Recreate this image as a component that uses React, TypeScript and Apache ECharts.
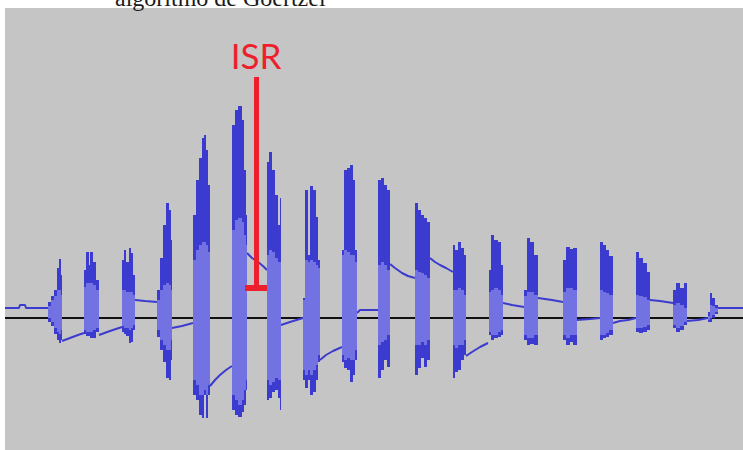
import React, { useEffect, useRef } from "react";
import * as echarts from "echarts";

const captionText = "algoritmo de Goertzel";
const markerLabel = "ISR";

// Each column: [tStart, tEnd, peakMax, rmsMax, rmsMin, peakMin] (amplitude units, 0 = zero line)
const burst01 = [
  [48, 51, 16, 12, 0, -4], [51, 54, 22, 18, -4, -8], [54, 57, 28, 22, -10, -16],
  [57, 59, 50, 28, -14, -22], [59, 61, 59, 28, -16, -25], [61, 62, 43, 23, -12, -22],
];
const burst02 = [
  [84, 86, 48, 31, -12, -16], [86, 89, 66, 35, -14, -18], [89, 90, 53, 35, -14, -18],
  [90, 93, 66, 35, -14, -20], [93, 96, 56, 33, -12, -20], [96, 99, 38, 28, -10, -14],
];
const burst03 = [
  [122, 124, 58, 28, -8, -14], [124, 126, 68, 28, -10, -16], [126, 129, 56, 26, -10, -18],
  [129, 131, 70, 26, -12, -25], [131, 133, 65, 26, -10, -24], [133, 135, 43, 23, -7, -12],
];
const burst04 = [
  [157, 160, 28, 18, -12, -19], [160, 163, 60, 28, -22, -32], [163, 166, 93, 33, -27, -44],
  [166, 169, 115, 35, -32, -60], [169, 171, 108, 33, -32, -62], [171, 172, 78, 28, -22, -42],
];
const burst05 = [
  [193, 196, 103, 58, -62, -77], [196, 199, 138, 68, -67, -82], [199, 202, 160, 73, -77, -97],
  [202, 204, 180, 76, -77, -100], [204, 206, 183, 76, -72, -77], [206, 208, 168, 73, -77, -100],
  [208, 210, 133, 66, -67, -77],
];
const burst06 = [
  [232, 235, 193, 88, -77, -92], [235, 238, 208, 98, -82, -97], [238, 242, 212, 100, -87, -99],
  [242, 244, 198, 96, -82, -94], [244, 246, 148, 83, -72, -87], [246, 247, 103, 73, -62, -72],
];
const burst07 = [
  [267, 269, 156, 63, -62, -82], [269, 272, 166, 68, -67, -80], [272, 275, 148, 66, -64, -74],
  [275, 278, 123, 60, -60, -72], [278, 280, 93, 56, -62, -80], [280, 281, 120, 56, -62, -92],
];
const burst08 = [
  [303, 305, 20, 18, -52, -62], [305, 308, 128, 58, -57, -70], [308, 310, 63, 56, -52, -62],
  [310, 313, 132, 58, -57, -77], [313, 316, 128, 56, -52, -74], [316, 318, 101, 53, -47, -62],
  [318, 320, 58, 50, -37, -44],
];
const burst09 = [
  [342, 344, 68, 63, -37, -44], [344, 347, 148, 68, -42, -50], [347, 350, 150, 66, -40, -52],
  [350, 353, 153, 63, -42, -64], [353, 355, 138, 63, -42, -57], [355, 357, 68, 56, -32, -42],
];
const burst10 = [
  [378, 381, 138, 53, -27, -60], [381, 384, 140, 56, -24, -52], [384, 387, 133, 53, -22, -42],
  [387, 390, 128, 48, -17, -49],
];
const burst11 = [
  [415, 418, 115, 48, -27, -57], [418, 421, 108, 46, -27, -50], [421, 424, 103, 45, -24, -40],
  [424, 427, 100, 43, -27, -49], [427, 430, 96, 40, -22, -42],
];
const burst12 = [
  [453, 455, 73, 28, -27, -60], [455, 458, 68, 28, -30, -54], [458, 461, 76, 30, -27, -52],
  [461, 464, 70, 28, -27, -42], [464, 466, 63, 23, -22, -37],
];
const burst13 = [
  [489, 491, 48, 26, -14, -17], [491, 494, 83, 28, -17, -22], [494, 498, 78, 30, -17, -20],
  [498, 501, 76, 28, -14, -19], [501, 503, 53, 23, -12, -17],
];
const burst14 = [
  [524, 527, 28, 22, -17, -22], [527, 530, 80, 26, -20, -27], [530, 534, 76, 26, -20, -26],
  [534, 538, 63, 23, -17, -27],
];
const burst15 = [
  [563, 566, 58, 26, -17, -22], [566, 570, 71, 30, -20, -27], [570, 573, 69, 30, -17, -24],
  [573, 577, 70, 28, -17, -27],
];
const burst16 = [
  [600, 603, 76, 28, -17, -22], [603, 606, 73, 26, -17, -20], [606, 609, 68, 25, -15, -19],
  [609, 613, 62, 23, -12, -17],
];
const burst17 = [
  [636, 639, 66, 23, -10, -14], [639, 643, 60, 22, -10, -15], [643, 647, 55, 21, -9, -14],
  [647, 650, 46, 18, -7, -12],
];
const burst18 = [
  [673, 676, 28, 13, -7, -10], [676, 680, 35, 15, -10, -14], [680, 684, 30, 13, -8, -12],
  [684, 687, 35, 10, -4, -7],
];
const burst19 = [
  [708, 710, 6, 2, -2, -4], [710, 712, 25, 13, 0, -4], [712, 715, 20, 12, 3, 0],
  [715, 718, 13, 10, 6, 4],
];

const bursts = [
  burst01, burst02, burst03, burst04, burst05, burst06, burst07, burst08, burst09, burst10,
  burst11, burst12, burst13, burst14, burst15, burst16, burst17, burst18, burst19,
];

// DC drift between bursts: [t, amplitude]
const driftSegments = [
  [[5, 10], [19, 10], [20, 13], [25, 13], [26, 10], [48, 10]],
  [[62, -23], [70, -20], [78, -17], [84, -15]],
  [[99, -17], [110, -13], [122, -9]],
  [[135, 18], [145, 17], [157, 16]],
  [[172, -10], [182, -8], [193, -5]],
  [[210, -68], [215, -62], [220, -57], [226, -52], [232, -48]],
  [[247, 65], [252, 60], [258, 56], [263, 52], [267, 48]],
  [[281, -7], [290, -4], [303, 0]],
  [[320, -42], [326, -37], [333, -33], [342, -29]],
  [[357, 5], [360, 8], [378, 8]],
  [[390, 54], [395, 50], [402, 45], [408, 42], [415, 40]],
  [[430, 60], [435, 56], [440, 53], [446, 50], [453, 46]],
  [[466, -38], [472, -34], [480, -29], [488, -25]],
  [[503, 15], [512, 13], [524, 11]],
  [[538, 20], [545, 19], [552, 18], [563, 16]],
  [[577, -2], [590, -1], [600, 0]],
  [[613, -5], [620, -3], [628, -2], [636, 0]],
  [[650, 18], [660, 17], [673, 15]],
  [[687, -3], [698, -2], [708, 0]],
  [[718, 10], [743, 10]],
];

const zeroLine = [[5, 0], [743, 0]];
const isrStem = [[256.5, 241], [256.5, 30]];
const isrFoot = [[245, 30], [267, 30]];

const T_MIN = 5;
const T_MAX = 743;
const A_MIN = -132;
const A_MAX = 310;

const PEAK_COLOR = "#3b3bcf";
const RMS_COLOR = "#7272e2";
const RED = "#ee1f2d";

export default function App() {
  const ref = useRef<HTMLDivElement>(null);

  useEffect(() => {
    if (!ref.current) return;
    const chart = echarts.init(ref.current, undefined, { renderer: "svg" });

    const peakData: number[][] = [];
    const rmsData: number[][] = [];
    bursts.forEach((b) =>
      b.forEach((c) => {
        peakData.push([c[0], c[1], c[2], c[5]]);
        rmsData.push([c[0], c[1], c[3], c[4]]);
      })
    );

    const driftData: any[] = [];
    driftSegments.forEach((seg, i) => {
      if (i > 0) driftData.push([seg[0][0], "-"]);
      seg.forEach((p) => driftData.push(p));
    });

    const block = (color: string) => (params: any, api: any) => {
      const a = api.coord([api.value(0), api.value(2)]);
      const b = api.coord([api.value(1), api.value(3)]);
      return {
        type: "rect",
        shape: { x: a[0], y: a[1], width: b[0] - a[0], height: Math.max(1, b[1] - a[1]) },
        style: { fill: color },
      };
    };

    chart.setOption({
      animation: false,
      backgroundColor: "#ffffff",
      grid: {
        left: 5,
        top: 8,
        right: 0,
        bottom: 0,
        show: true,
        backgroundColor: "#c5c5c5",
        borderWidth: 0,
      },
      xAxis: { type: "value", min: T_MIN, max: T_MAX, show: false },
      yAxis: { type: "value", min: A_MIN, max: A_MAX, show: false },
      graphic: [
        {
          type: "text",
          left: 115,
          top: -14,
          z: 10,
          style: {
            text: captionText,
            font: '24px "Liberation Serif", "Times New Roman", serif',
            fill: "#1a1a1a",
          },
        },
        {
          type: "text",
          x: 256,
          y: 55,
          z: 10,
          style: {
            text: markerLabel,
            font: '35px Lato, "Open Sans", sans-serif',
            fill: RED,
            align: "center",
            verticalAlign: "middle",
          },
        },
      ],
      series: [
        {
          type: "line",
          data: zeroLine,
          symbol: "none",
          lineStyle: { color: "#111111", width: 2 },
          z: 1,
          silent: true,
        },
        {
          type: "line",
          data: driftData,
          symbol: "none",
          connectNulls: false,
          lineStyle: { color: PEAK_COLOR, width: 2 },
          z: 2,
          silent: true,
        },
        {
          type: "custom",
          data: peakData,
          renderItem: block(PEAK_COLOR),
          encode: { x: [0, 1], y: [2, 3] },
          z: 3,
          silent: true,
        },
        {
          type: "custom",
          data: rmsData,
          renderItem: block(RMS_COLOR),
          encode: { x: [0, 1], y: [2, 3] },
          z: 4,
          silent: true,
        },
        {
          type: "line",
          data: isrStem,
          symbol: "none",
          lineStyle: { color: RED, width: 5, cap: "butt" },
          z: 6,
          silent: true,
        },
        {
          type: "line",
          data: isrFoot,
          symbol: "none",
          lineStyle: { color: RED, width: 6, cap: "butt" },
          z: 6,
          silent: true,
        },
      ],
    });

    return () => chart.dispose();
  }, []);

  return (
    <div
      ref={ref}
      style={{ position: "fixed", left: 0, top: 0, width: 743, height: 450 }}
    />
  );
}
